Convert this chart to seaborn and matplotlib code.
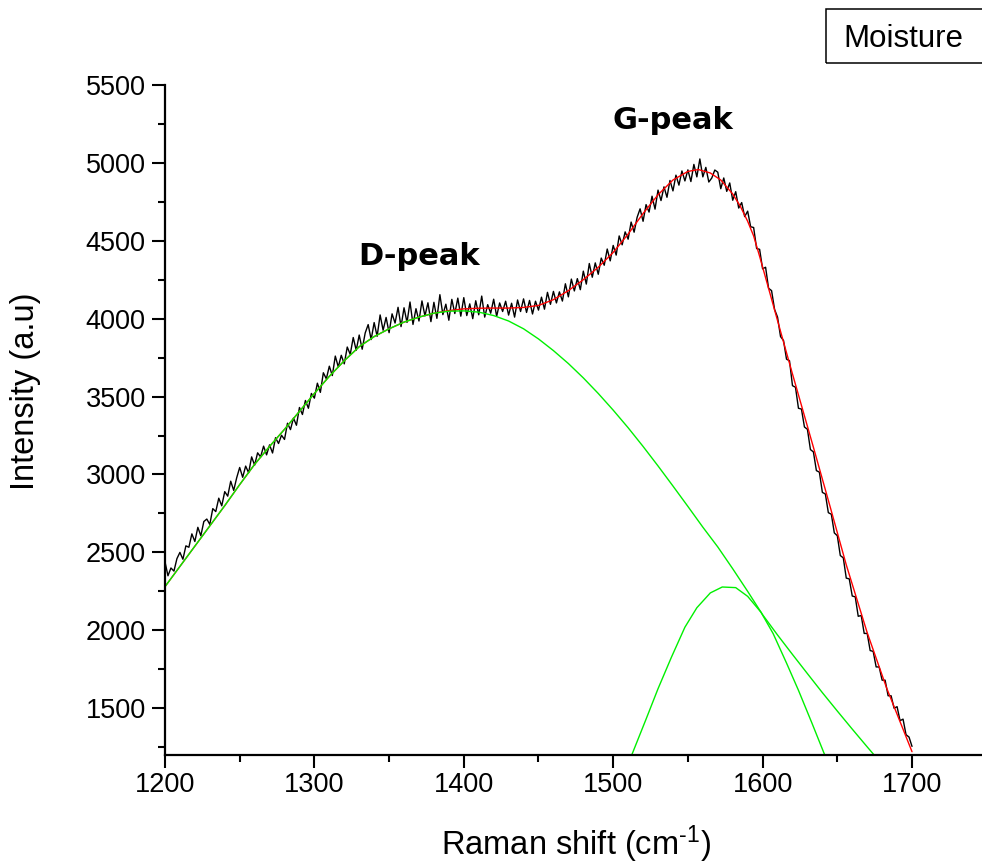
import numpy as np
import pandas as pd
import seaborn as sns
import matplotlib
matplotlib.use("Agg")
import matplotlib.pyplot as plt
from matplotlib.ticker import MultipleLocator
from matplotlib.patches import Rectangle

# ---------------- data ----------------
raman_shift = list(range(1200, 1701, 2))
intensity = [
    2440, 2350, 2400, 2380, 2460,
    2500, 2456, 2542, 2533, 2619,
    2570, 2661, 2607, 2698, 2714,
    2680, 2781, 2762, 2848, 2799,
    2890, 2861, 2957, 2898, 2979,
    3045, 2982, 3054, 3011, 3113,
    3060, 3139, 3113, 3182, 3126,
    3190, 3138, 3236, 3199, 3252,
    3225, 3329, 3288, 3362, 3316,
    3430, 3385, 3475, 3425, 3520,
    3490, 3586, 3527, 3653, 3614,
    3695, 3635, 3760, 3690, 3765,
    3710, 3818, 3771, 3879, 3797,
    3895, 3804, 3908, 3962, 3866,
    3975, 3887, 4024, 3926, 4008,
    3910, 4031, 3972, 4073, 3949,
    4070, 3976, 4107, 3963, 4064,
    3985, 4114, 4018, 4102, 3981,
    4105, 4002, 4154, 4026, 4093,
    3990, 4124, 4033, 4132, 4016,
    4135, 4020, 4095, 4000, 4115,
    4025, 4145, 4010, 4090, 4035,
    4125, 4015, 4101, 4046, 4112,
    4023, 4099, 4010, 4120, 4046,
    4127, 4040, 4117, 4030, 4112,
    4055, 4138, 4061, 4169, 4092,
    4175, 4101, 4172, 4113, 4224,
    4140, 4254, 4178, 4257, 4186,
    4305, 4222, 4354, 4266, 4358,
    4285, 4389, 4343, 4447, 4371,
    4470, 4408, 4531, 4474, 4557,
    4510, 4620, 4555, 4650, 4705,
    4625, 4732, 4684, 4786, 4703,
    4825, 4758, 4846, 4779, 4887,
    4820, 4921, 4857, 4948, 4884,
    4955, 4880, 4990, 4910, 5025,
    4910, 4971, 4877, 4903, 4954,
    4940, 4834, 4903, 4817, 4871,
    4760, 4815, 4710, 4745, 4655,
    4690, 4590, 4585, 4450, 4445,
    4320, 4330, 4195, 4180, 4060,
    4010, 3885, 3860, 3740, 3730,
    3570, 3560, 3425, 3420, 3305,
    3290, 3160, 3145, 3025, 3015,
    2885, 2875, 2755, 2745, 2625,
    2607, 2480, 2465, 2335, 2330,
    2220, 2215, 2090, 2095, 1980,
    1980, 1870, 1865, 1765, 1765,
    1680, 1680, 1580, 1580, 1500,
    1510, 1420, 1430, 1330, 1315,
    1255,
]

fit_shift = [1200, 1210, 1220, 1230, 1240, 1250, 1260, 1270, 1280, 1290,
             1300, 1310, 1320, 1330, 1340, 1350, 1360, 1370, 1380, 1390,
             1400, 1410, 1420, 1430, 1440, 1450, 1460, 1470, 1480, 1490,
             1500, 1510, 1520, 1530, 1540, 1550,
             1557, 1565, 1572, 1580, 1585, 1590, 1594, 1598, 1605, 1614,
             1620, 1627, 1634, 1645, 1656, 1670, 1683, 1700]
fit_intensity = [2280, 2410, 2540, 2670, 2800, 2935, 3065, 3180, 3290, 3405,
                 3520, 3630, 3730, 3820, 3885, 3935, 3978, 4010, 4035, 4052,
                 4063, 4067, 4068, 4068, 4072, 4085, 4122, 4180, 4250, 4330,
                 4425, 4543, 4675, 4795, 4890, 4945,
                 4957, 4935, 4890, 4800, 4723, 4625, 4531, 4400, 4160, 3850,
                 3645, 3410, 3175, 2800, 2420, 1985, 1630, 1221]

d_shift = list(range(1200, 1681, 10))
d_intensity = [2280, 2410, 2540, 2670, 2800, 2935, 3065, 3180, 3290, 3405,
               3520, 3630, 3730, 3820, 3885, 3935, 3978, 4010, 4035, 4048,
               4050, 4042, 4020, 3985, 3935, 3870, 3795, 3712, 3620, 3520,
               3413, 3300, 3180, 3055, 2926, 2795, 2662, 2535, 2395, 2250,
               2100, 1970, 1845, 1722, 1600, 1482, 1366, 1252, 1140]

g_shift = [1505, 1513, 1522, 1530, 1539, 1548, 1556, 1565, 1573, 1582,
           1590, 1599, 1607, 1616, 1624, 1633, 1641, 1650]
g_intensity = [1030, 1214, 1430, 1625, 1828, 2020, 2145, 2240, 2278, 2274,
               2218, 2115, 1980, 1790, 1615, 1405, 1214, 1004]

x_ticks = [1200, 1300, 1400, 1500, 1600, 1700]
y_ticks = [1500, 2000, 2500, 3000, 3500, 4000, 4500, 5000, 5500]

# ---------------- style ----------------
sns.set_theme(style="ticks")
plt.rcParams["font.family"] = ["Liberation Sans", "DejaVu Sans"]
plt.rcParams["mathtext.fontset"] = "custom"
plt.rcParams["mathtext.rm"] = "Liberation Sans"
plt.rcParams["mathtext.it"] = "Liberation Sans:italic"
plt.rcParams["mathtext.bf"] = "Liberation Sans:bold"

fig = plt.figure(figsize=(9.82, 8.65), dpi=100)
fig.patch.set_facecolor("white")
ax = fig.add_axes([0.168, 0.1272, 0.8368, 0.7746])
ax.set_facecolor("white")

sns.lineplot(x=raman_shift, y=intensity, ax=ax, color="black", lw=1.0,
             estimator=None, sort=False)
sns.lineplot(x=fit_shift, y=fit_intensity, ax=ax, color="#ff0000", lw=1.0,
             estimator=None, sort=False)
sns.lineplot(x=d_shift, y=d_intensity, ax=ax, color="#00f000", lw=1.0,
             estimator=None, sort=False)
sns.lineplot(x=g_shift, y=g_intensity, ax=ax, color="#00f000", lw=1.0,
             estimator=None, sort=False)

ax.set_xlim(1200, 1750)
ax.set_ylim(1200, 5500)
ax.set_xticks(x_ticks)
ax.set_yticks(y_ticks)
ax.set_xticklabels([str(v) for v in x_ticks])
ax.set_yticklabels([str(v) for v in y_ticks])
ax.xaxis.set_minor_locator(MultipleLocator(50))
ax.yaxis.set_minor_locator(MultipleLocator(250))

for s in ["top", "right"]:
    ax.spines[s].set_visible(False)
for s in ["left", "bottom"]:
    ax.spines[s].set_linewidth(1.6)
    ax.spines[s].set_color("black")

ax.tick_params(which="major", length=9.5, width=1.5, direction="out",
               colors="black", labelsize=19.5)
ax.tick_params(axis="x", which="major", pad=3)
ax.tick_params(axis="y", which="major", pad=4.3)
ax.tick_params(which="minor", length=5, width=1.5, direction="out",
               colors="black")

ax.set_xlabel(r"Raman shift (cm$^{\text{-}1}$)", fontsize=23.5, color="black")
ax.xaxis.label.set_va("baseline")
ax.xaxis.set_label_coords(0.5, -0.149)
ax.set_ylabel("Intensity (a.u)", fontsize=23.5, color="black")
ax.yaxis.label.set_va("center")
ax.yaxis.set_label_coords(-0.170, 0.543)

# peak annotations
ax.text(1200 + (358 - 165) / 1.494, 5500 - (266 - 85) * 6.386, "D-peak",
        fontsize=22, fontweight="bold", family="DejaVu Sans",
        ha="left", va="baseline", color="black")
ax.text(1200 + (613 - 165) / 1.494, 5500 - (129 - 85) * 6.386, "G-peak",
        fontsize=22, fontweight="bold", family="DejaVu Sans",
        ha="left", va="baseline", color="black", clip_on=False)

# legend-like box
fig.patches.append(Rectangle((826 / 982, (865 - 63) / 865), 0.2, 54 / 865,
                             transform=fig.transFigure, fill=False,
                             edgecolor="black", lw=1.1))
fig.text(843 / 982, (865 - 47) / 865, "Moisture", fontsize=22.5,
         ha="left", va="baseline", color="black")

fig.savefig("out.png", dpi=100, facecolor="white")
